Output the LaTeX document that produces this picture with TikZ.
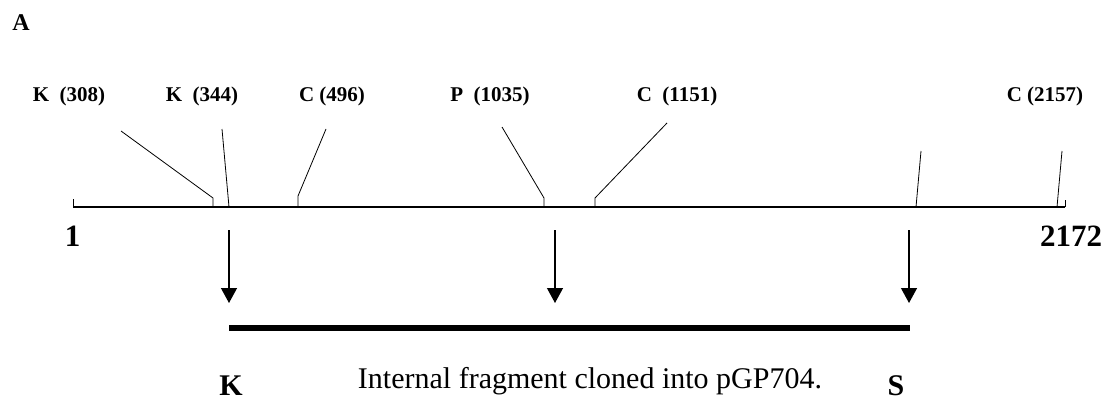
\documentclass[tikz,border=0pt]{standalone}
\usepackage{fontspec}
\setmainfont{Liberation Serif}
\usetikzlibrary{positioning}
\usetikzlibrary{arrows.meta}

\begin{document}
\begin{tikzpicture}[x=1pt, y=-1pt,
		site/.style={font=\fontsize{21}{24}\selectfont\bfseries, anchor=base, inner sep=0pt},
		endnum/.style={font=\fontsize{31}{34}\selectfont\bfseries, anchor=base, inner sep=0pt},
		enzyme/.style={font=\fontsize{30}{32}\selectfont\bfseries, anchor=base, inner sep=0pt},
		leader/.style={line width=0.8pt},
		cut/.style={line width=1.3pt, -{Triangle[length=15pt, width=16pt]}},
		fragment/.style={line width=6pt}
	]
	\useasboundingbox (0,0) rectangle (1115,401);
	
	\node[font=\fontsize{24}{26}\selectfont\bfseries, anchor=base, inner sep=0pt] (panel) at (21,31) {A};
	
	% restriction sites
	\node[site] (k308) at (69,102) {K~~(308)};
	\node[site] (k344) at (202,102) {K~~(344)};
	\node[site] (c496) at (332,102) {C (496)};
	\node[site] (p1035) at (490,102) {P~~(1035)};
	\node[site] (c1151) at (677,102) {C~~(1151)};
	\node[site] (c2157) at (1045,102) {C (2157)};
	
	% map
	\coordinate (start) at (73,207);
	\coordinate (stop) at (1065,207);
	\draw[line width=2pt] (start) -- (stop);
	\draw[leader] (start) -- ++(0,-8);
	\draw[leader] (stop) -- ++(0,-7);
	\node[endnum] (one) at (72.5,246) {1};
	\node[endnum] (len) at (1071,246) {2172};
	
	% leaders
	\coordinate (k308a) at (121,131);
	\coordinate (k308b) at (213,198);
	\coordinate (k308c) at (213,207);
	\coordinate (k344a) at (222,129);
	\coordinate (k344c) at (229,207);
	\coordinate (c496a) at (326,129);
	\coordinate (c496b) at (298,196);
	\coordinate (c496c) at (298,207);
	\coordinate (p1035a) at (502,127);
	\coordinate (p1035b) at (544,198);
	\coordinate (p1035c) at (544,207);
	\coordinate (c1151a) at (667,123);
	\coordinate (c1151b) at (595,198);
	\coordinate (c1151c) at (595,207);
	\coordinate (xa) at (921,151);
	\coordinate (xc) at (916,207);
	\coordinate (c2157a) at (1062,151);
	\coordinate (c2157c) at (1057,207);
	\draw[leader] (k308a) -- (k308b) -- (k308c);
	\draw[leader] (k344a) -- (k344c);
	\draw[leader] (c496a) -- (c496b) -- (c496c);
	\draw[leader] (p1035a) -- (p1035b) -- (p1035c);
	\draw[leader] (c1151a) -- (c1151b) -- (c1151c);
	\draw[leader] (xa) -- (xc);
	\draw[leader] (c2157a) -- (c2157c);
	
	% cloned fragment
	\coordinate (cut1) at (229,230);
	\coordinate (cut1e) at (229,303);
	\coordinate (cut2) at (555,230);
	\coordinate (cut2e) at (555,303);
	\coordinate (cut3) at (909,230);
	\coordinate (cut3e) at (909,303);
	\draw[cut] (cut1) -- (cut1e);
	\draw[cut] (cut2) -- (cut2e);
	\draw[cut] (cut3) -- (cut3e);
	\coordinate (fragl) at (229,328);
	\coordinate (fragr) at (910,328);
	\draw[fragment] (fragl) -- (fragr);
	
	\node[enzyme] (kpn) at (231,395) {K};
	\node[enzyme] (sph) at (896,395) {S};
	\node[font=\fontsize{30}{32}\selectfont, anchor=base, inner sep=0pt] (note) at (590,388) {Internal fragment cloned into pGP704.};
\end{tikzpicture}
\end{document}
